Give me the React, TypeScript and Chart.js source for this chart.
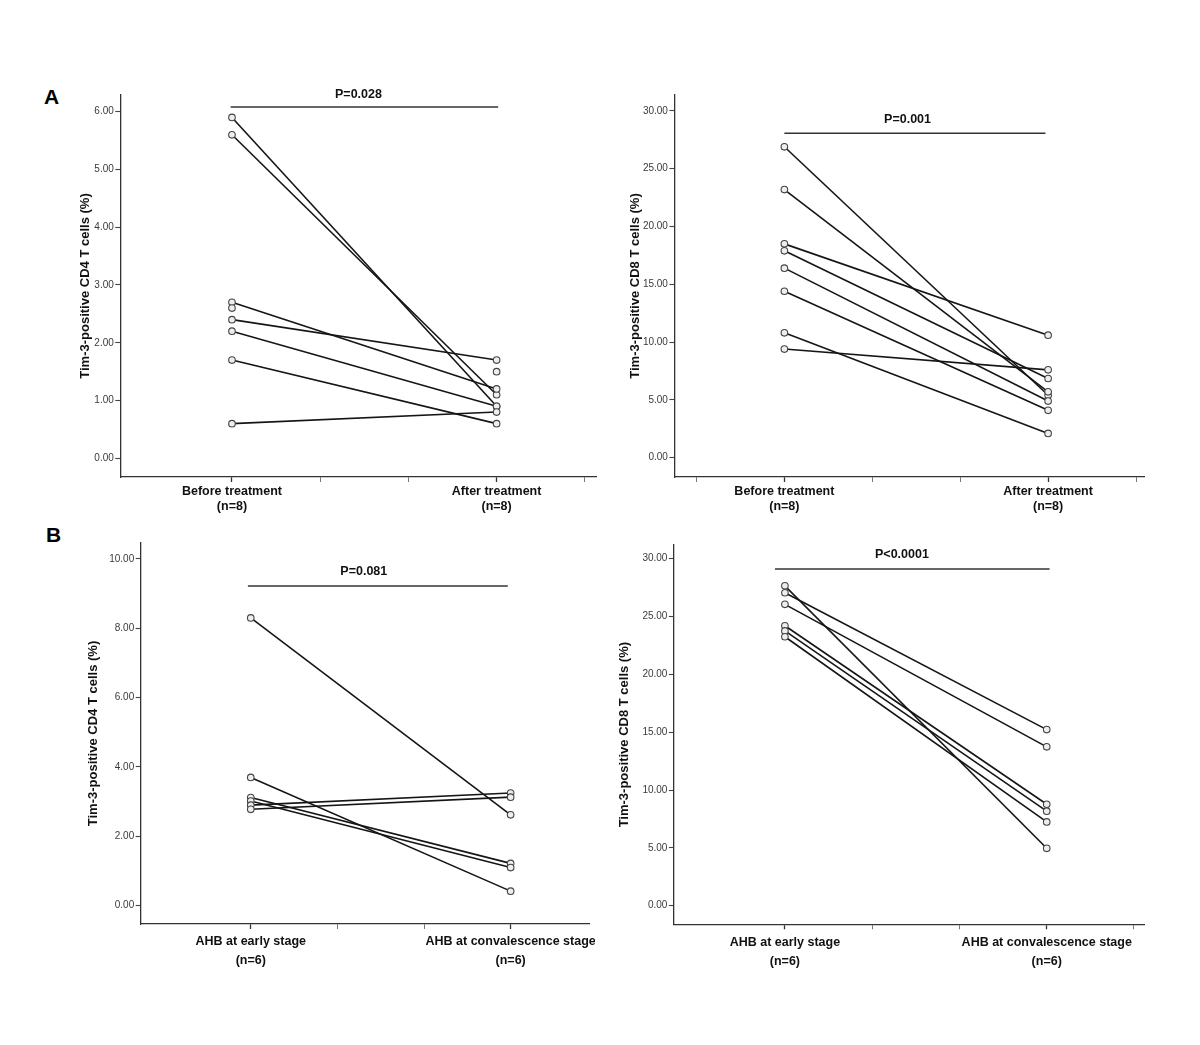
import React, { useEffect, useRef } from "react";
import { Chart, registerables } from "chart.js";

Chart.register(...registerables);

const FONT = "'Liberation Sans', Arial, Helvetica, sans-serif";

// ---------------- DATA ----------------
// Panel A, left: Tim-3+ CD4 T cells, before / after treatment (null = unpaired point)
const a1Categories = [["Before treatment", "(n=8)"], ["After treatment", "(n=8)"]];
const a1Before = [5.9, 5.6, 2.7, 2.6, 2.4, 2.2, 1.7, 0.6, null];
const a1After = [0.9, 1.1, 1.2, null, 1.7, 0.9, 0.6, 0.8, 1.5];
const a1YTicks = [0, 1, 2, 3, 4, 5, 6];
const a1XTicks = [1, 4 / 3, 5 / 3, 2, 7 / 3];
const a1P = "P=0.028";

// Panel A, right: Tim-3+ CD8 T cells, before / after treatment
const a2Categories = [["Before treatment", "(n=8)"], ["After treatment", "(n=8)"]];
const a2Before = [26.9, 23.2, 18.5, 17.9, 16.4, 14.4, 10.8, 9.4];
const a2After = [5.4, 5.7, 10.6, 6.85, 4.9, 4.1, 2.1, 7.6];
const a2YTicks = [0, 5, 10, 15, 20, 25, 30];
const a2XTicks = [2 / 3, 1, 4 / 3, 5 / 3, 2, 7 / 3];
const a2P = "P=0.001";

// Panel B, left: Tim-3+ CD4 T cells, AHB early / convalescence
const b1Categories = [["AHB at early stage", "(n=6)"], ["AHB at convalescence stage", "(n=6)"]];
const b1Early = [8.3, 3.7, 3.12, 3.02, 2.9, 2.78];
const b1Conv = [2.62, 0.42, 1.22, 1.1, 3.25, 3.13];
const b1YTicks = [0, 2, 4, 6, 8, 10];
const b1XTicks = [1, 4 / 3, 5 / 3, 2];
const b1P = "P=0.081";

// Panel B, right: Tim-3+ CD8 T cells, AHB early / convalescence
const b2Categories = [["AHB at early stage", "(n=6)"], ["AHB at convalescence stage", "(n=6)"]];
const b2Early = [27.65, 27.05, 26.05, 24.2, 23.75, 23.25];
const b2Conv = [4.96, 15.22, 13.73, 8.77, 8.17, 7.24];
const b2YTicks = [0, 5, 10, 15, 20, 25, 30];
const b2XTicks = [1, 4 / 3, 5 / 3, 2, 7 / 3];
const b2P = "P<0.0001";

// ---------------- LAYOUT / STYLE ----------------
type PanelCfg = {
  left: number; top: number; w: number; h: number;
  pad: { top: number; right: number; left: number; bottom: number };
  yAxisW: number; xAxisH: number;
  xMin: number; xMax: number; yMin: number; yMax: number;
  yTitle: string; titlePad: number;
  xLabelPad: number; xLabelLH: number;
  categories: string[][];
  first: (number | null)[]; second: (number | null)[];
  yTicks: number[]; xTicks: number[];
  annot: { x1: number; x2: number; y: number; tx: number; ty: number; text: string };
};

const panels: PanelCfg[] = [
  {
    left: 70, top: 60, w: 532, h: 460,
    pad: { top: 35, right: 2, left: 0, bottom: 0 },
    yAxisW: 50.3, xAxisH: 43,
    xMin: 0.578, xMax: 2.379, yMin: -0.324, yMax: 6.289,
    yTitle: "Tim-3-positive CD4 T cells (%)", titlePad: 7.2,
    xLabelPad: 2.5, xLabelLH: 1.2,
    categories: a1Categories, first: a1Before, second: a1After,
    yTicks: a1YTicks, xTicks: a1XTicks,
    annot: { x1: 0.995, x2: 2.006, y: 6.08, tx: 1.478, ty: 6.289, text: a1P },
  },
  {
    left: 620, top: 60, w: 530, h: 460,
    pad: { top: 35, right: 2, left: 0, bottom: 0 },
    yAxisW: 54.4, xAxisH: 43,
    xMin: 0.583, xMax: 2.367, yMin: -1.67, yMax: 31.38,
    yTitle: "Tim-3-positive CD8 T cells (%)", titlePad: 7.9,
    xLabelPad: 2.5, xLabelLH: 1.2,
    categories: a2Categories, first: a2Before, second: a2After,
    yTicks: a2YTicks, xTicks: a2XTicks,
    annot: { x1: 1.0, x2: 1.99, y: 28.07, tx: 1.467, ty: 29.22, text: a2P },
  },
  {
    left: 80, top: 505, w: 515, h: 475,
    pad: { top: 38, right: 0, left: 0, bottom: 0 },
    yAxisW: 60.7, xAxisH: 56,
    xMin: 0.5765, xMax: 2.305, yMin: -0.528, yMax: 10.46,
    yTitle: "Tim-3-positive CD4 T cells (%)", titlePad: 5.9,
    xLabelPad: 3.5, xLabelLH: 1.52,
    categories: b1Categories, first: b1Early, second: b1Conv,
    yTicks: b1YTicks, xTicks: b1XTicks,
    annot: { x1: 0.989, x2: 1.989, y: 9.22, tx: 1.435, ty: 9.63, text: b1P },
  },
  {
    left: 610, top: 505, w: 540, h: 475,
    pad: { top: 40, right: 2, left: 0, bottom: 0 },
    yAxisW: 63.9, xAxisH: 55.7,
    xMin: 0.576, xMax: 2.375, yMin: -1.61, yMax: 31.18,
    yTitle: "Tim-3-positive CD8 T cells (%)", titlePad: 6.2,
    xLabelPad: 3.5, xLabelLH: 1.52,
    categories: b2Categories, first: b2Early, second: b2Conv,
    yTicks: b2YTicks, xTicks: b2XTicks,
    annot: { x1: 0.962, x2: 2.011, y: 29.11, tx: 1.447, ty: 30.38, text: b2P },
  },
];

const AXIS_COLOR = "#333";

const annotPlugin = {
  id: "annot",
  afterDraw(chart: any, _args: any, opts: any) {
    const { ctx } = chart;
    const x = chart.scales.x;
    const y = chart.scales.y;
    ctx.save();
    ctx.strokeStyle = "#333";
    ctx.lineWidth = 1.4;
    ctx.beginPath();
    const py = y.getPixelForValue(opts.y);
    ctx.moveTo(x.getPixelForValue(opts.x1), py);
    ctx.lineTo(x.getPixelForValue(opts.x2), py);
    ctx.stroke();
    ctx.font = `bold 12.5px ${FONT}`;
    ctx.fillStyle = "#111";
    ctx.textAlign = "center";
    ctx.textBaseline = "middle";
    ctx.fillText(opts.text, x.getPixelForValue(opts.tx), y.getPixelForValue(opts.ty));
    ctx.restore();
  },
};

function Panel({ cfg }: { cfg: PanelCfg }) {
  const ref = useRef<HTMLCanvasElement>(null);
  useEffect(() => {
    if (!ref.current) return;
    const lineSets: any[] = [];
    cfg.first.forEach((v, i) => {
      const w = cfg.second[i];
      if (v !== null && w !== null && w !== undefined) {
        lineSets.push({
          data: [{ x: 1, y: v }, { x: 2, y: w }],
          borderColor: "#151515",
          borderWidth: 1.6,
          pointRadius: 0,
          fill: false,
          tension: 0,
          order: 1,
        });
      }
    });
    const pointStyle = {
      showLine: false,
      pointRadius: 3.3,
      pointBorderWidth: 1.1,
      pointBorderColor: "#444",
      pointBackgroundColor: "#eeeeee",
      order: 0,
    };
    const firstPts = cfg.first.filter((v) => v !== null).map((v) => ({ x: 1, y: v as number }));
    const secondPts = cfg.second.filter((v) => v !== null).map((v) => ({ x: 2, y: v as number }));

    const labelFor = (v: number) => {
      if (Math.abs(v - 1) < 1e-6) return cfg.categories[0];
      if (Math.abs(v - 2) < 1e-6) return cfg.categories[1];
      return "";
    };
    const isMajor = (v: number) => Math.abs(v - 1) < 1e-6 || Math.abs(v - 2) < 1e-6;

    const chart = new Chart(ref.current, {
      type: "line",
      data: {
        datasets: [
          { ...pointStyle, data: firstPts },
          { ...pointStyle, data: secondPts },
          ...lineSets,
        ],
      },
      options: {
        responsive: false,
        maintainAspectRatio: false,
        animation: false,
        devicePixelRatio: 1,
        layout: { padding: cfg.pad },
        plugins: {
          legend: { display: false },
          tooltip: { enabled: false },
          annot: cfg.annot,
        } as any,
        scales: {
          x: {
            type: "linear",
            min: cfg.xMin,
            max: cfg.xMax,
            afterBuildTicks: (s: any) => {
              s.ticks = cfg.xTicks.map((v) => ({ value: v }));
            },
            afterFit: (s: any) => {
              s.height = cfg.xAxisH;
              s.paddingLeft = 0;
              s.paddingRight = 0;
            },
            grid: {
              display: true,
              drawOnChartArea: false,
              drawTicks: true,
              tickLength: 5,
              tickColor: (c: any) => (isMajor(c.tick.value) ? "#333" : "#777"),
              tickWidth: (c: any) => (isMajor(c.tick.value) ? 1.3 : 1),
            },
            border: { display: true, color: AXIS_COLOR, width: 1.3 },
            ticks: {
              autoSkip: false,
              maxRotation: 0,
              minRotation: 0,
              padding: cfg.xLabelPad,
              color: "#111",
              font: { family: FONT, size: 12.5, weight: "bold", lineHeight: cfg.xLabelLH },
              callback: (v: any) => labelFor(Number(v)),
            },
          },
          y: {
            type: "linear",
            min: cfg.yMin,
            max: cfg.yMax,
            afterBuildTicks: (s: any) => {
              s.ticks = cfg.yTicks.map((v) => ({ value: v }));
            },
            afterFit: (s: any) => {
              s.width = cfg.yAxisW;
              s.paddingTop = 0;
              s.paddingBottom = 0;
            },
            grid: {
              display: true,
              drawOnChartArea: false,
              drawTicks: true,
              tickLength: 5,
              tickColor: "#444",
              tickWidth: 1.1,
            },
            border: { display: true, color: AXIS_COLOR, width: 1.3 },
            ticks: {
              padding: 1.5,
              color: "#3a3a3a",
              font: { family: FONT, size: 10 },
              callback: (v: any) => Number(v).toFixed(2),
            },
            title: {
              display: true,
              text: cfg.yTitle,
              color: "#111",
              padding: { top: cfg.titlePad, bottom: 0 },
              font: { family: FONT, size: 13, weight: "bold", lineHeight: 1.2 },
            },
          },
        },
      } as any,
      plugins: [annotPlugin as any],
    });
    return () => chart.destroy();
  }, [cfg]);
  return (
    <canvas
      ref={ref}
      width={cfg.w}
      height={cfg.h}
      style={{ position: "absolute", left: cfg.left, top: cfg.top, width: cfg.w, height: cfg.h }}
    />
  );
}

export default function App() {
  const letter: React.CSSProperties = {
    position: "absolute",
    fontFamily: FONT,
    fontWeight: "bold",
    fontSize: 21,
    lineHeight: "21px",
    color: "#000",
  };
  return (
    <div
      style={{
        position: "absolute",
        left: 0,
        top: 0,
        width: 1200,
        height: 1045,
        background: "#fff",
        overflow: "hidden",
      }}
    >
      <div style={{ ...letter, left: 44, top: 86 }}>A</div>
      <div style={{ ...letter, left: 46, top: 523.5 }}>B</div>
      {panels.map((p, i) => (
        <Panel key={i} cfg={p} />
      ))}
    </div>
  );
}
